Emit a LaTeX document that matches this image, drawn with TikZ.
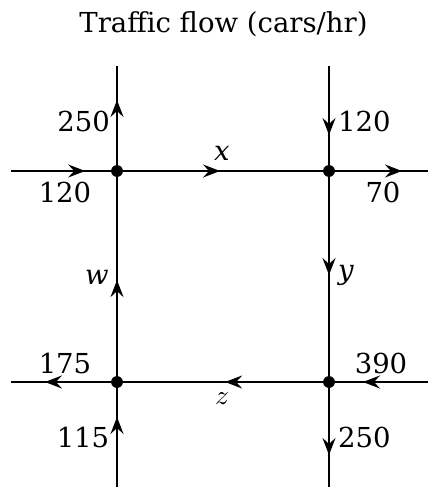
\documentclass[tikz,border=0pt]{standalone}
\usepackage{fontspec}
\setmainfont{DejaVu Serif}
\usetikzlibrary{arrows.meta,decorations.markings}
\begin{document}
\begin{tikzpicture}[x=1pt,y=-1pt,
  road/.style={line width=2pt},
  flow/.style={road,postaction={decorate},decoration={markings,mark=at position #1 with {\arrow{Stealth[length=17pt,width=13pt,inset=6pt]}}}},
  jn/.style={circle,fill=black,inner sep=0pt,minimum size=11.5pt},
  lbl/.style={inner sep=0pt,font=\fontsize{27.5}{30}\selectfont},
  mathlbl/.style={inner sep=0pt,font=\normalsize,scale=2.75}]
\useasboundingbox (0,0) rectangle (428,487);
% junctions
\node[jn] (A) at (117,171) {};
\node[jn] (B) at (329,171) {};
\node[jn] (C) at (117,382) {};
\node[jn] (D) at (329,382) {};
% free ends
\coordinate (L1) at (11,171);
\coordinate (R1) at (428,171);
\coordinate (L2) at (11,382);
\coordinate (R2) at (428,382);
\coordinate (T1) at (117,66);
\coordinate (T2) at (329,66);
\coordinate (B1) at (117,487);
\coordinate (B2) at (329,487);
% roads
\draw[flow=0.70] (L1) -- (A.center);
\draw[flow=0.486] (A.center) -- (B.center);
\draw[flow=0.737] (B.center) -- (R1);
\draw[flow=0.676] (A.center) -- (T1);
\draw[flow=0.657] (T2) -- (B.center);
\draw[flow=0.483] (C.center) -- (A.center);
\draw[flow=0.493] (B.center) -- (D.center);
\draw[flow=0.49] (D.center) -- (C.center);
\draw[flow=0.657] (R2) -- (D.center);
\draw[flow=0.68] (C.center) -- (L2);
\draw[flow=0.667] (B1) -- (C.center);
\draw[flow=0.695] (D.center) -- (B2);
\node[jn] at (A) {};
\node[jn] at (B) {};
\node[jn] at (C) {};
\node[jn] at (D) {};
% labels
\node[lbl,anchor=base] (title) at (223.5,33) {Traffic flow (cars/hr)};
\node[lbl,anchor=east] (n250a) at (110,121) {250};
\node[lbl,anchor=west] (n120a) at (338,121) {120};
\node[lbl] (n120b) at (65,192) {120};
\node[lbl] (n70) at (383,192) {70};
\node[lbl] (lx) at (222,153) {\textit{x}};
\node[lbl] (lw) at (97,277) {\textit{w}};
\node[lbl,anchor=west] (ly) at (338,275) {\textit{y}};
\node[lbl] (n175) at (65,363) {175};
\node[lbl] (n390) at (381,363) {390};
\node[mathlbl] (lz) at (222,399) {$z$};
\node[lbl] (n115) at (83,437) {115};
\node[lbl,anchor=west] (n250b) at (338,437) {250};
\end{tikzpicture}
\end{document}
